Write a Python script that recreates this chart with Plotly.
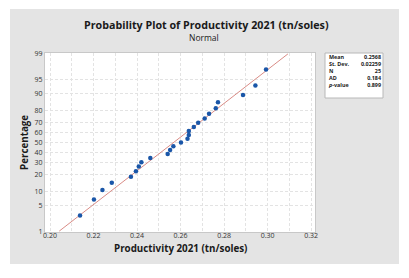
import plotly.graph_objects as go
from statistics import NormalDist

# ---- data ----
productivity = [0.2138, 0.2202, 0.2241, 0.2284, 0.2372, 0.2395, 0.2408, 0.2420,
                0.2461, 0.2541, 0.2552, 0.2567, 0.2602, 0.2632, 0.2638, 0.2638,
                0.2661, 0.2681, 0.2711, 0.2731, 0.2762, 0.2772, 0.2887, 0.2944,
                0.2993]
percent = [2.76, 6.69, 10.63, 14.57, 18.50, 22.44, 26.38, 30.31, 34.25, 38.19,
           42.13, 46.06, 50.00, 53.94, 57.87, 61.81, 65.75, 69.69, 73.62, 77.56,
           81.50, 85.43, 89.37, 93.31, 97.24]
fit_mean = 0.2568
fit_sd = 0.02259
fit_percent_ends = [1, 99]
y_tick_labels = [1, 5, 10, 20, 30, 40, 50, 60, 70, 80, 90, 95, 99]
x_tick_vals = [0.20, 0.22, 0.24, 0.26, 0.28, 0.30, 0.32]
x_tick_labels = ["0.20", "0.22", "0.24", "0.26", "0.28", "0.30", "0.32"]
stat_names = ["Mean", "St. Dev.", "N", "AD", "<i>p</i>-value"]
stat_values = ["0.2568", "0.02259", "25", "0.184", "0.899"]

nd = NormalDist()
def z(p):
    return nd.inv_cdf(p / 100.0)

fig = go.Figure()

fit_z = [z(p) for p in fit_percent_ends]
fit_x = [fit_mean + fit_sd * v for v in fit_z]
fig.add_trace(go.Scatter(x=fit_x, y=fit_z, mode="lines",
                         line=dict(color="#d98c86", width=1), hoverinfo="skip"))
fig.add_trace(go.Scatter(x=productivity, y=[z(p) for p in percent], mode="markers",
                         marker=dict(color="#1a56a8", size=4.5)))

# page body has an 8px margin, so the figure is placed at (8, 8)
OFF = 8
W, H = 409 - OFF, 278 - OFF
L, R, T, B = 45, 315, 53, 232          # plot area in reference (page) pixels
def px(xp):
    return (xp - L) / (R - L)
def py(yp):
    return (B - yp) / (B - T)

font = "Open Sans"
grid = dict(showgrid=True, gridcolor="#e3e3e3", griddash="3px,2px", gridwidth=1)
fig.update_layout(
    width=W, height=H, showlegend=False,
    margin=dict(l=L - OFF, r=409 - R, t=T - OFF, b=278 - B, pad=0),
    paper_bgcolor="white", plot_bgcolor="rgba(0,0,0,0)",
    font=dict(family=font, size=7, color="#333333"),
    xaxis=dict(range=[0.1977, 0.3218], tickvals=x_tick_vals, ticktext=x_tick_labels,
               **grid, minor=dict(dtick=0.01, tick0=0.20, **grid),
               zeroline=False, showline=True, mirror=True, linecolor="#c8c8c8",
               ticks="", automargin=False, ticklabelstandoff=-3,
               tickfont=dict(size=7, color="#333333")),
    yaxis=dict(range=[-2.35, 2.35], tickvals=[z(p) for p in y_tick_labels],
               ticktext=[str(p) for p in y_tick_labels], **grid,
               zeroline=False, showline=True, mirror=True, linecolor="#c8c8c8",
               ticks="", automargin=False, tickfont=dict(size=7, color="#333333")),
)

shapes = [
    dict(type="rect", xref="paper", yref="paper", layer="below",
         x0=px(10), x1=px(399), y0=py(264), y1=py(9),
         fillcolor="#e4e4e4", line=dict(width=0)),
    dict(type="rect", xref="paper", yref="paper", layer="below",
         x0=0, x1=1, y0=0, y1=1, fillcolor="white", line=dict(width=0)),
    dict(type="rect", xref="paper", yref="paper", layer="above",
         x0=px(325), x1=px(383), y0=py(98), y1=py(53),
         fillcolor="white", line=dict(color="#b8b8b8", width=1)),
]
fig.update_layout(shapes=shapes)

ann = []
ann.append(dict(text="<b>Probability Plot of Productivity 2021 (tn/soles)</b>",
                x=px(206), y=py(25), xref="paper", yref="paper", showarrow=False,
                xanchor="center", yanchor="middle",
                font=dict(family=font, size=10.7, color="#1a1a1a")))
ann.append(dict(text="Normal", x=px(204), y=py(38), xref="paper", yref="paper",
                showarrow=False, xanchor="center", yanchor="middle",
                font=dict(family=font, size=8.5, color="#1a1a1a")))
ann.append(dict(text="<b>Productivity 2021 (tn/soles)</b>", x=px(180), y=py(248.5),
                xref="paper", yref="paper", showarrow=False, xanchor="center",
                yanchor="middle", borderpad=0,
                font=dict(family=font, size=9.8, color="#1a1a1a")))
ann.append(dict(text="<b>Percentage</b>", x=px(24), y=py(143), textangle=-90,
                xref="paper", yref="paper", showarrow=False, xanchor="center",
                yanchor="middle", font=dict(family=font, size=9.8, color="#1a1a1a")))
ann.append(dict(text="<br>".join("<b>" + n + "</b>" for n in stat_names),
                x=px(326.5), y=py(71), xref="paper", yref="paper", showarrow=False,
                xanchor="left", yanchor="middle", align="left", borderpad=0,
                font=dict(family=font, size=5.4, color="#1a1a1a")))
ann.append(dict(text="<br>".join("<b>" + v + "</b>" for v in stat_values),
                x=px(382), y=py(71), xref="paper", yref="paper", showarrow=False,
                xanchor="right", yanchor="middle", align="right", borderpad=0,
                font=dict(family=font, size=5.4, color="#1a1a1a")))
fig.update_layout(annotations=ann)

fig.write_html("out.html")
